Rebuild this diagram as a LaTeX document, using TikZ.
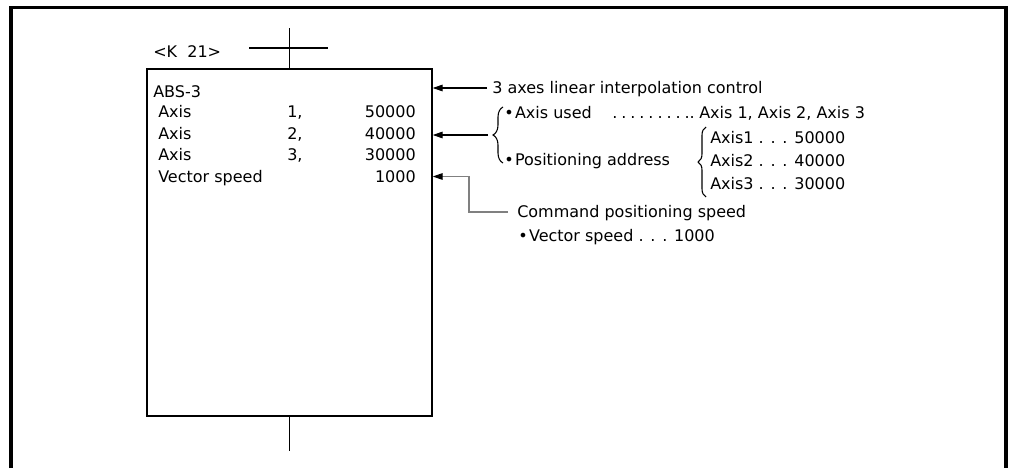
\documentclass[tikz,border=0pt]{standalone}
\usepackage{fontspec}
\setmainfont{DejaVu Sans}
\usetikzlibrary{arrows.meta,decorations.pathreplacing}

\begin{document}
\begin{tikzpicture}[x=0.75pt, y=-0.75pt,
    txt/.style={anchor=west, inner sep=0pt, text height=8.7pt, text depth=0pt, font=\fontsize{12}{14}\selectfont},
    num/.style={txt, anchor=east},
    arr/.style={line width=0.8pt, -{Triangle[length=7.5pt, width=5pt, black]}},
    curly/.style={decorate, decoration={brace, amplitude=#1}, line width=0.8pt}]
    \useasboundingbox (0,0) rectangle (1009,468);

    % Frame
    \draw[line width=2.6pt] (11,468) -- (11,7.5) -- (1006,7.5) -- (1006,468);

    % Program box and step line
    \node[draw, line width=1.3pt, anchor=north west, minimum width=213.75pt, minimum height=260.25pt] (prog) at (146,68) {};
    \coordinate (top) at (288,28);
    \coordinate (bot) at (288,451);
    \coordinate (hl) at (249,48);
    \coordinate (hr) at (328,48);
    \draw[line width=1.3pt] (prog.north) -- (prog.north |- top);
    \draw[line width=1.3pt] (hl) -- (hr);
    \draw[line width=1.3pt] (prog.south) -- (prog.south |- bot);

    % Box texts
    \node[txt] (k21) at (153,52) {<K\ \ 21>};
    \node[txt] (abs) at (153,92) {ABS-3};
    \node[txt] (row1) at (158,112) {Axis};
    \node[txt] (no1) at (287,112) {1,};
    \node[num] (val1) at (416,112) {50000};
    \node[txt] (row2) at (158,133.5) {Axis};
    \node[txt] (no2) at (287,133.5) {2,};
    \node[num] (val2) at (416,133.5) {40000};
    \node[txt] (row3) at (158,155) {Axis};
    \node[txt] (no3) at (287,155) {3,};
    \node[num] (val3) at (416,155) {30000};
    \node[txt] (vrow) at (158,176.5) {Vector speed};
    \node[num] (vval) at (416,176.5) {1000};

    % Explanations
    \node[txt] (ctrl) at (492,88) {3 axes linear interpolation control};
    \draw[arr, shorten <=3.75pt] (ctrl.west) -- (prog.east |- ctrl.west);

    \draw[curly=7.5pt] (503,163) -- (503,107);
    \coordinate (b1) at (493,135);
    \draw[arr, shorten <=3.75pt] (b1) -- (prog.east |- b1);
    \node[txt] (used) at (504,113) {\textbullet\hspace{1pt}Axis used};
    \node[txt] (dots) at (612,113) {{\spaceskip=1.7pt . . . . . . . . ..}};
    \node[txt] (axes) at (699,113) {Axis 1, Axis 2, Axis 3};
    \node[txt] (addr) at (504,160) {\textbullet\hspace{1pt}Positioning address};
    \draw[curly=6pt] (706,197) -- (706,127);
    \node[txt] (a1) at (710,138) {Axis1 . . . 50000};
    \node[txt] (a2) at (710,161) {Axis2 . . . 40000};
    \node[txt] (a3) at (710,184) {Axis3 . . . 30000};

    \node[txt] (cmd) at (517,212) {Command positioning speed};
    \node[txt] (vspd) at (518,236) {\textbullet\hspace{1pt}Vector speed . . . 1000};
    \draw[arr, gray, shorten <=6.75pt] (cmd.west) -- ++(-48,0) |- (prog.east |- vrow.west);
\end{tikzpicture}
\end{document}
